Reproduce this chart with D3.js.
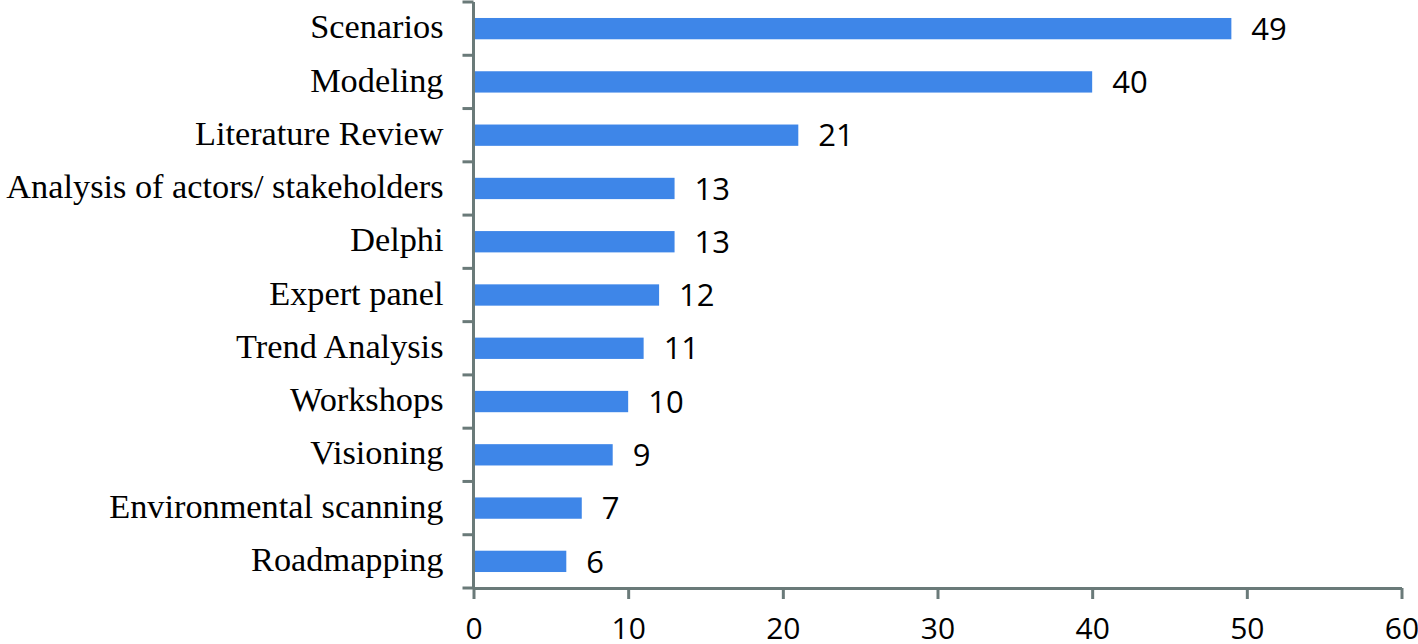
<!DOCTYPE html>
<html><head><meta charset="utf-8">
<script src="https://cdn.jsdelivr.net/npm/d3@7"></script>
<style>body{margin:0;background:#fff;}svg{display:block;}</style>
</head><body>
<svg id="c" width="1418" height="644"></svg>
<script>
const categories = ["Scenarios","Modeling","Literature Review","Analysis of actors/ stakeholders","Delphi","Expert panel","Trend Analysis","Workshops","Visioning","Environmental scanning","Roadmapping"];
const values = [49,40,21,13,13,12,11,10,9,7,6];
const xTicks = [0,10,20,30,40,50,60];

(function(){
const svg = d3.select("#c");
const mLeft = 473.5, mRight = 1401.5, mTop = 2, mBottom = 588;
const x = d3.scaleLinear().domain([0,60]).range([mLeft,mRight]);
const y = d3.scaleBand().domain(categories).range([mTop,mBottom]).paddingInner(0.6).paddingOuter(0.3);
const band = d3.scaleBand().domain(categories).range([mTop,mBottom]);
const axisColor = "#6a7a79";

svg.append("g").selectAll("rect").data(categories).join("rect")
  .attr("x", x(0)+1).attr("y", d=>y(d)).attr("height", y.bandwidth())
  .attr("width", (d,i)=>x(values[i])-x(0)-1).attr("fill","#3e86e8");

svg.append("g").selectAll("text").data(categories).join("text")
  .attr("x",(d,i)=>x(values[i])+20).attr("y",d=>y(d)+y.bandwidth()/2)
  .attr("dy","0.36em").attr("font-family","'Open Sans', sans-serif").attr("font-size",31)
  .attr("fill","#000").text((d,i)=>values[i]);

// y axis
const yTickPos = d3.range(categories.length+1).map(i=>mTop+i*band.step());
svg.append("g").selectAll("line").data(yTickPos).join("line")
  .attr("x1",mLeft-11).attr("x2",mLeft).attr("y1",d=>d).attr("y2",d=>d)
  .attr("stroke",axisColor).attr("stroke-width",3);
svg.append("line").attr("x1",mLeft).attr("x2",mLeft).attr("y1",mTop).attr("y2",mBottom+1)
  .attr("stroke",axisColor).attr("stroke-width",3);
svg.append("g").selectAll("text").data(categories).join("text")
  .attr("x",mLeft-30).attr("y",d=>band(d)+band.bandwidth()/2)
  .attr("dy","0.28em").attr("text-anchor","end")
  .attr("font-family","'Liberation Serif', 'Times New Roman', serif").attr("font-size",34.3)
  .attr("fill","#000").text(d=>d);

// x axis
const xa = svg.append("g").attr("transform",`translate(0,${mBottom})`)
  .call(d3.axisBottom(x).tickValues(xTicks).tickSize(11).tickPadding(19).tickSizeOuter(0).tickFormat(d3.format("d")));
xa.select(".domain").attr("stroke",axisColor).attr("stroke-width",3);
xa.selectAll(".tick line").attr("stroke",axisColor).attr("stroke-width",3);
xa.selectAll(".tick text").attr("font-family","'Open Sans', sans-serif").attr("font-size",30).attr("fill","#000");
})();
</script>
</body></html>
